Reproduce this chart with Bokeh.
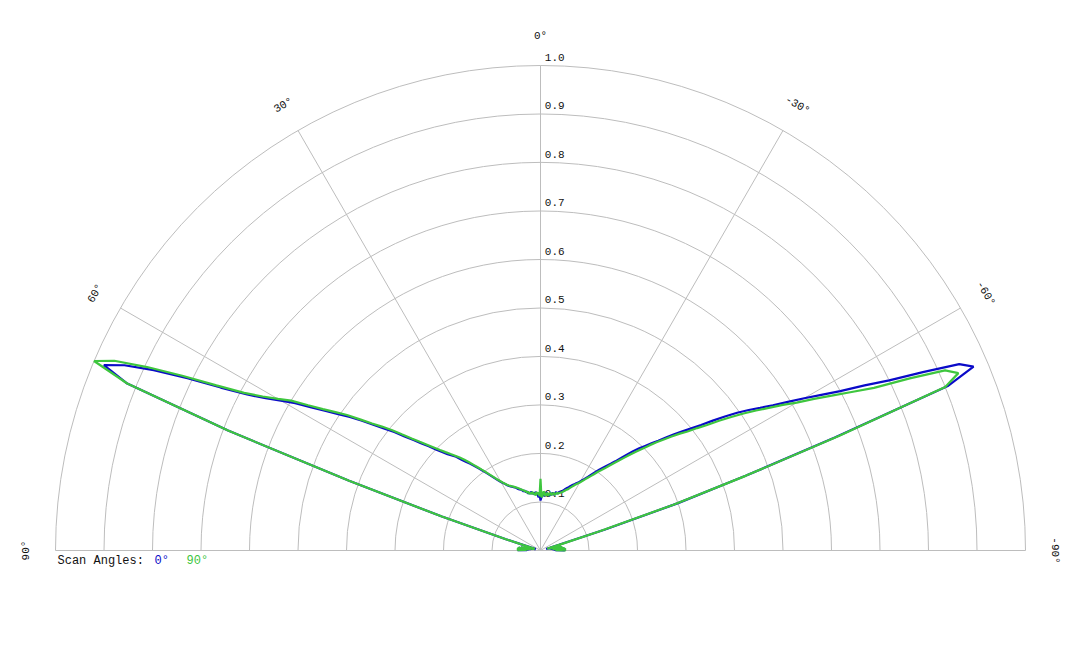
import numpy as np
from bokeh.plotting import figure
from bokeh.models import Range1d
from bokeh.core.properties import value
from bokeh.embed import file_html
from bokeh.resources import INLINE

# ---- data ----
angles = list(range(-90, 91))  # degrees, positive to the left

blue_r = [
    # -90 .. -61
    0.050, 0.030, 0.052, 0.028, 0.050, 0.026, 0.048, 0.024, 0.045, 0.022,
    0.042, 0.020, 0.038, 0.018, 0.030, 0.012, 0.020, 0.040, 0.140, 0.300,
    0.450, 0.650, 0.907, 0.970, 0.945, 0.870, 0.800, 0.750, 0.700, 0.662,
    # -60 .. -31
    0.628, 0.595, 0.565, 0.540, 0.518, 0.495, 0.470, 0.445, 0.420, 0.400,
    0.382, 0.365, 0.348, 0.332, 0.318, 0.305, 0.293, 0.280, 0.266, 0.252,
    0.240, 0.230, 0.222, 0.214, 0.206, 0.198, 0.190, 0.182, 0.176, 0.170,
    # -30 .. -1
    0.165, 0.160, 0.157, 0.153, 0.150, 0.147, 0.143, 0.140, 0.137, 0.133,
    0.130, 0.128, 0.127, 0.124, 0.122, 0.125, 0.120, 0.118, 0.122, 0.117,
    0.120, 0.114, 0.119, 0.115, 0.121, 0.116, 0.112, 0.120, 0.115, 0.110,
    # 0
    0.103,
    # 1 .. 30
    0.118, 0.110, 0.115, 0.119, 0.121, 0.116, 0.120, 0.118, 0.123, 0.119,
    0.122, 0.120, 0.125, 0.124, 0.128, 0.127, 0.130, 0.132, 0.133, 0.135,
    0.138, 0.140, 0.142, 0.144, 0.146, 0.148, 0.151, 0.155, 0.159, 0.163,
    # 31 .. 60
    0.168, 0.174, 0.181, 0.188, 0.196, 0.204, 0.212, 0.221, 0.230, 0.238,
    0.248, 0.260, 0.268, 0.276, 0.287, 0.300, 0.315, 0.330, 0.347, 0.366,
    0.388, 0.408, 0.430, 0.455, 0.480, 0.503, 0.528, 0.557, 0.590, 0.618,
    # 61 .. 90
    0.648, 0.685, 0.740, 0.810, 0.880, 0.939, 0.978, 0.919, 0.690, 0.420,
    0.215, 0.075, 0.020, 0.010, 0.018, 0.012, 0.025, 0.015, 0.032, 0.018,
    0.040, 0.020, 0.045, 0.024, 0.047, 0.026, 0.048, 0.028, 0.046, 0.045,
]

green_r = [
    # -90 .. -61
    0.052, 0.032, 0.053, 0.030, 0.051, 0.028, 0.049, 0.026, 0.046, 0.024,
    0.043, 0.022, 0.039, 0.020, 0.031, 0.014, 0.020, 0.045, 0.130, 0.290,
    0.450, 0.660, 0.900, 0.936, 0.913, 0.840, 0.765, 0.720, 0.680, 0.645,
    # -60 .. -31
    0.610, 0.583, 0.555, 0.530, 0.505, 0.480, 0.455, 0.430, 0.410, 0.390,
    0.375, 0.358, 0.342, 0.327, 0.312, 0.297, 0.283, 0.270, 0.257, 0.245,
    0.235, 0.225, 0.215, 0.207, 0.200, 0.192, 0.185, 0.179, 0.173, 0.167,
    # -30 .. -1
    0.162, 0.158, 0.154, 0.150, 0.146, 0.142, 0.138, 0.136, 0.133, 0.130,
    0.128, 0.126, 0.125, 0.122, 0.124, 0.121, 0.118, 0.122, 0.120, 0.116,
    0.121, 0.118, 0.114, 0.120, 0.117, 0.113, 0.119, 0.122, 0.112, 0.110,
    # 0
    0.148,
    # 1 .. 30
    0.112, 0.120, 0.116, 0.121, 0.114, 0.119, 0.117, 0.122, 0.118, 0.121,
    0.119, 0.124, 0.122, 0.126, 0.127, 0.129, 0.131, 0.133, 0.135, 0.137,
    0.139, 0.141, 0.143, 0.145, 0.147, 0.149, 0.152, 0.156, 0.160, 0.165,
    # 31 .. 60
    0.170, 0.176, 0.183, 0.190, 0.198, 0.206, 0.215, 0.224, 0.234, 0.244,
    0.254, 0.263, 0.272, 0.282, 0.293, 0.306, 0.320, 0.335, 0.352, 0.372,
    0.395, 0.415, 0.435, 0.460, 0.487, 0.510, 0.535, 0.565, 0.600, 0.625,
    # 61 .. 90
    0.655, 0.692, 0.750, 0.822, 0.895, 0.962, 1.000, 0.919, 0.690, 0.420,
    0.215, 0.075, 0.022, 0.012, 0.020, 0.014, 0.027, 0.016, 0.034, 0.020,
    0.041, 0.022, 0.046, 0.025, 0.048, 0.027, 0.049, 0.030, 0.047, 0.046,
]

ring_values = [0.1, 0.2, 0.3, 0.4, 0.5, 0.6, 0.7, 0.8, 0.9, 1.0]
ring_labels = ["0.1", "0.2", "0.3", "0.4", "0.5", "0.6", "0.7", "0.8", "0.9", "1.0"]
spoke_angles = [-90, -60, -30, 0, 30, 60, 90]
spoke_labels = ["-90°", "-60°", "-30°", "0°", "30°", "60°", "90°"]
series_names = ["0°", "90°"]

# ---- styling ----
BLUE = "#0a0ac8"
GREEN = "#3ec63e"
GRID = "#bdbdbd"
TEXT = "#111111"
FONT = value("Liberation Mono")

PX = 485.0  # pixels per unit radius
W, H = 1080, 648
CX, CY = 540, 550

p = figure(width=W, height=H, output_backend="svg", toolbar_location=None,
           x_axis_location=None, y_axis_location=None, min_border=0,
           x_range=Range1d(-CX / PX, (W - CX) / PX),
           y_range=Range1d(-(H - CY) / PX, CY / PX))
p.grid.visible = False
p.outline_line_color = None
p.background_fill_color = "white"
p.border_fill_color = "white"

# rings
p.arc(x=[0] * len(ring_values), y=[0] * len(ring_values), radius=ring_values,
      start_angle=0, end_angle=np.pi, line_color=GRID, line_width=1)

# spokes
sa = np.radians(spoke_angles)
p.segment(x0=[0] * len(sa), y0=[0] * len(sa), x1=-np.sin(sa), y1=np.cos(sa),
          line_color=GRID, line_width=1)

# radial labels
p.text(x=[0.009] * len(ring_values), y=[r + 0.017 for r in ring_values], text=ring_labels,
       text_font=FONT, text_font_size="11px", text_align="left",
       text_baseline="middle", text_color=TEXT)

# angle labels
lr = 1.06
p.text(x=-lr * np.sin(sa), y=lr * np.cos(sa), text=spoke_labels, angle=sa,
       text_font=FONT, text_font_size="11px", text_align="center",
       text_baseline="middle", text_color=TEXT)

# data curves
th = np.radians(angles)
br = np.array(blue_r)
gr = np.array(green_r)
p.line(-br * np.sin(th), br * np.cos(th), line_color=BLUE, line_width=2.2)
p.line(-gr * np.sin(th), gr * np.cos(th), line_color=GREEN, line_width=2.2)

# legend
ly = -10 / PX
p.text(x=[(57 - CX) / PX], y=[ly], text=["Scan Angles:"], text_font=FONT,
       text_font_size="12px", text_align="left", text_baseline="middle",
       text_color=TEXT)
p.text(x=[(154 - CX) / PX], y=[ly], text=[series_names[0]], text_font=FONT,
       text_font_size="12px", text_align="left", text_baseline="middle",
       text_color=BLUE)
p.text(x=[(186 - CX) / PX], y=[ly], text=[series_names[1]], text_font=FONT,
       text_font_size="12px", text_align="left", text_baseline="middle",
       text_color=GREEN)

open("out.html", "w").write(file_html(p, INLINE))
